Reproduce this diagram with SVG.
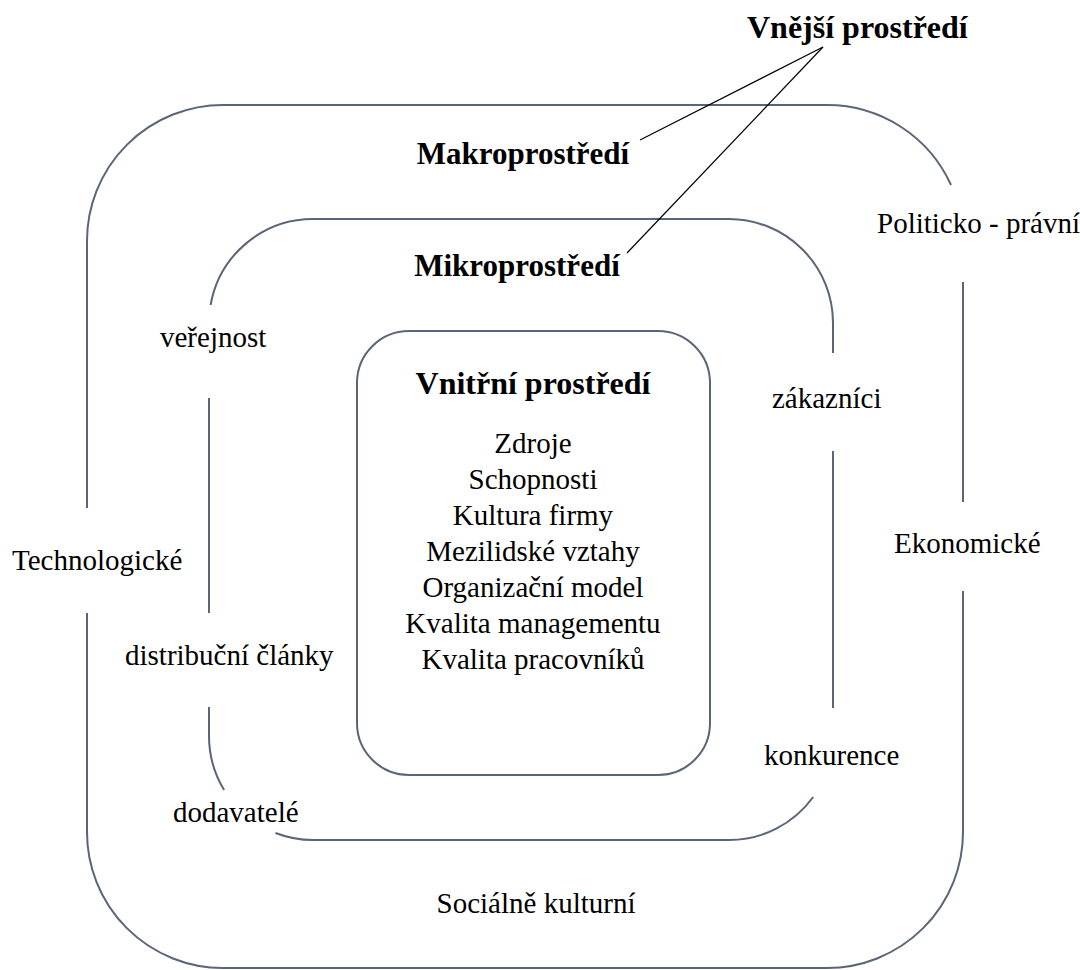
<svg xmlns="http://www.w3.org/2000/svg" width="1080" height="970" viewBox="0 0 1080 970" font-family="'Liberation Serif', 'Times New Roman', serif">
<style>
.frame{fill:none;stroke:#5a6577;stroke-width:2}
.lead{fill:none;stroke:#000;stroke-width:1.2}
text{font-family:'Liberation Serif','Times New Roman',serif;fill:#000;font-size:29px}
.b{font-weight:bold;font-size:31px}
.c{text-anchor:middle}
</style>
<rect width="1080" height="970" fill="#fff"/>
<g id="outer">
<path class="frame" d="M951,185 A136,136 0 0 0 827,105 L223,105 A136,136 0 0 0 87,241 L87,508"/>
<path class="frame" d="M87,613 L87,832 A136,136 0 0 0 223,968 L827,968 A136,136 0 0 0 963,832 L963,591"/>
<path class="frame" d="M963,502 L963,282"/>
<text class="b c" x="523" y="164">Makroprostředí</text>
<text x="877" y="233">Politicko - právní</text>
<text x="12" y="570">Technologické</text>
<text x="894" y="553">Ekonomické</text>
<text class="c" x="536" y="913">Sociálně kulturní</text>
</g>
<g id="middle">
<path class="frame" d="M210.6,305 A104,104 0 0 1 313,219 L729,219 A104,104 0 0 1 833,323 L833,353"/>
<path class="frame" d="M833,451 L833,708"/>
<path class="frame" d="M813.2,797 A104,104 0 0 1 729,840 L313,840 A104,104 0 0 1 275.5,833"/>
<path class="frame" d="M209,707 L209,736 A104,104 0 0 0 224.1,790"/>
<path class="frame" d="M209,398 L209,613"/>
<text class="b c" x="517" y="276">Mikroprostředí</text>
<text x="160" y="347">veřejnost</text>
<text x="772" y="408">zákazníci</text>
<text x="125" y="665">distribuční články</text>
<text x="764" y="765">konkurence</text>
<text x="173" y="822">dodavatelé</text>
</g>
<g id="inner">
<rect class="frame" x="357" y="331" width="353" height="444" rx="52" ry="52"/>
<text class="b c" x="533" y="394" style="font-size:32px">Vnitřní prostředí</text>
<text class="c" x="533" y="453">Zdroje</text>
<text class="c" x="533" y="489">Schopnosti</text>
<text class="c" x="533" y="525">Kultura firmy</text>
<text class="c" x="533" y="561">Mezilidské vztahy</text>
<text class="c" x="533" y="597">Organizační model</text>
<text class="c" x="533" y="633">Kvalita managementu</text>
<text class="c" x="533" y="669">Kvalita pracovníků</text>
</g>
<g id="external">
<text class="b" x="747" y="38" style="font-size:32px">Vnější prostředí</text>
</g>
<g id="connectors">
<line class="lead" x1="823" y1="47" x2="640" y2="140"/>
<line class="lead" x1="823" y1="47" x2="627" y2="253"/>
</g>
</svg>
